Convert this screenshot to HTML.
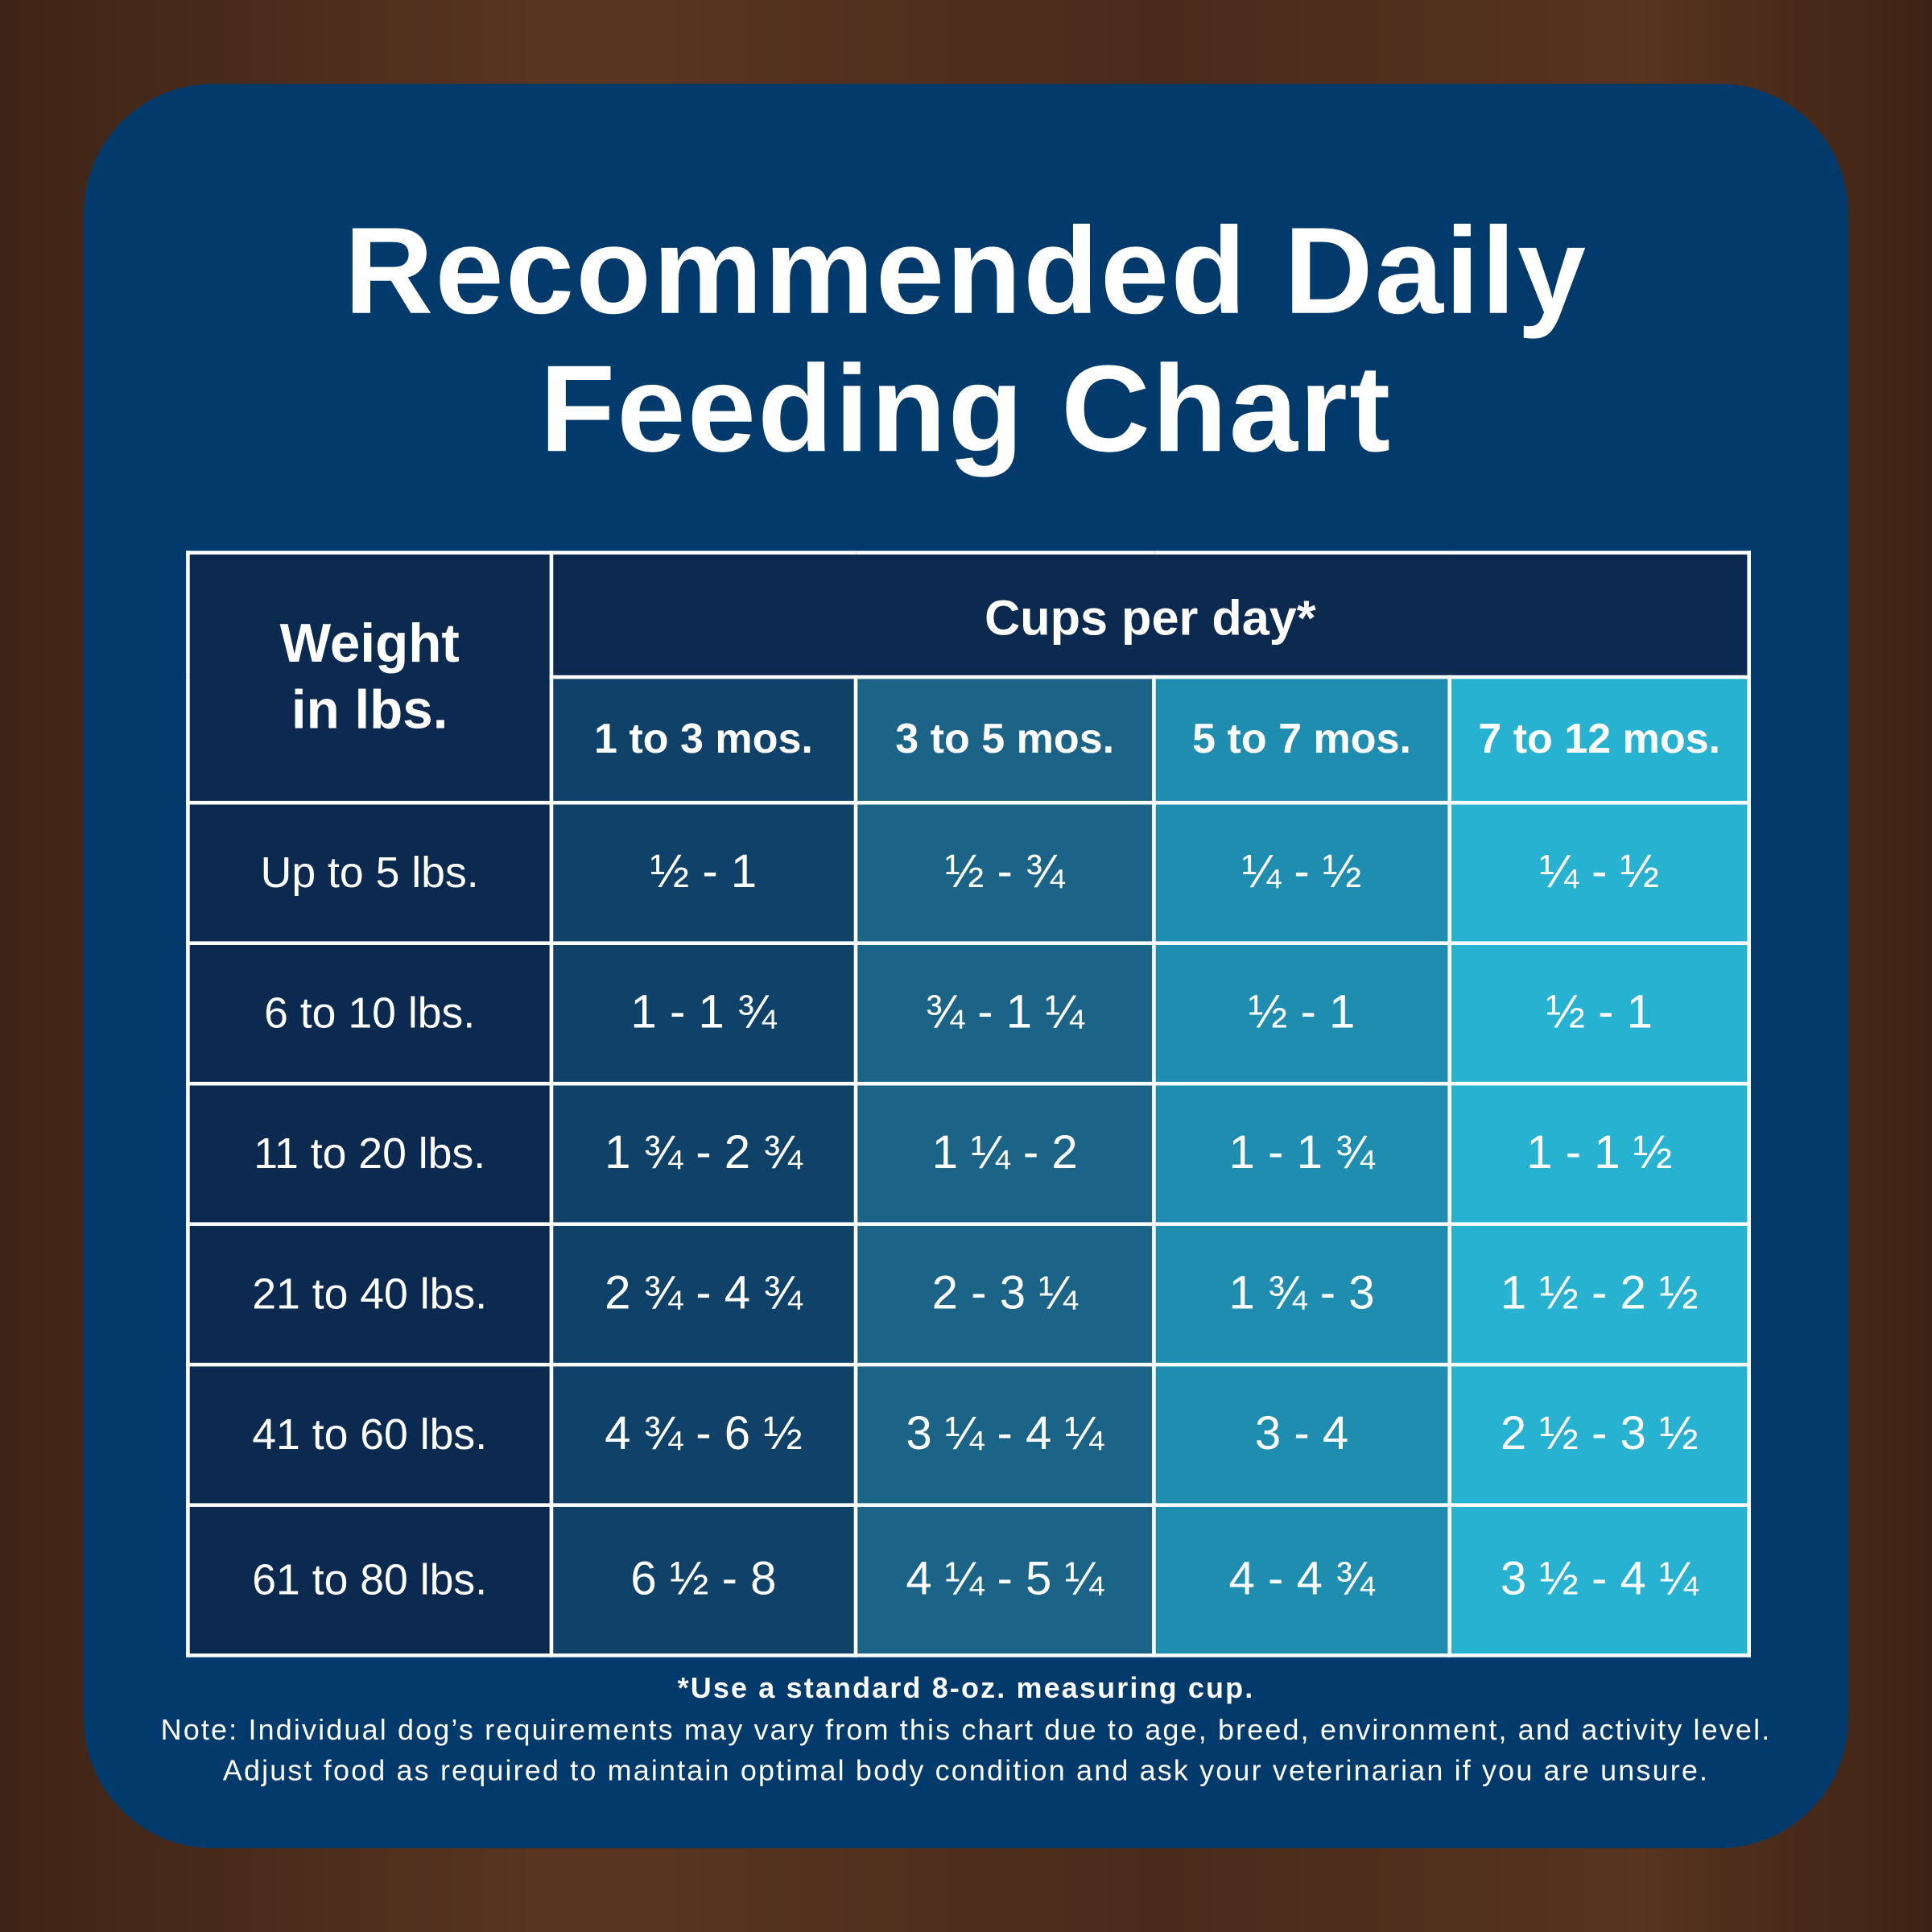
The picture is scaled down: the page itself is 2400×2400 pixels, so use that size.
<!DOCTYPE html>
<html><head><meta charset="utf-8"><style>
html,body{margin:0;padding:0;}
body{width:2400px;height:2400px;overflow:hidden;background:#4b2c1c;}
.bg{position:absolute;left:0;top:0;width:2400px;height:2400px;background:linear-gradient(90deg,#3e2416,#5a3522 30%,#4a2b1b 60%,#573320 85%,#3d2315);}
.wrap{position:absolute;left:0;top:0;width:1568px;height:1568px;transform:scale(1.530612);transform-origin:0 0;font-family:"Liberation Sans",sans-serif;color:#fff;}
.card{position:absolute;left:68px;top:68px;width:1432px;height:1432px;border-radius:105px;background:#023a6c;}
.title{position:absolute;left:0;width:1568px;text-align:center;font-weight:bold;font-size:100px;letter-spacing:1.5px;line-height:1;}
table{position:absolute;left:151px;top:447px;border-collapse:collapse;}
td{border:3px solid #fff;padding:0;text-align:center;vertical-align:middle;}
.c0{background:#0c2a50;}.c1{background:#0f4169;}.c2{background:#1b6488;}.c3{background:#1f8db0;}.c4{background:#27b2d1;}
.h{font-weight:bold;font-size:34px;}
.v{font-size:38px;}
.w{font-size:35px;}
.foot{position:absolute;left:0;width:1568px;text-align:center;font-size:23.5px;letter-spacing:1.4px;}
</style></head><body><div class="bg"></div>
<div class="wrap">
<div class="card"></div>
<div class="title" style="top:170px">Recommended Daily</div>
<div class="title" style="top:282px">Feeding Chart</div>
<table>
<tr style="height:101px"><td class="c0 h" rowspan="2" style="width:292px;font-size:44px;line-height:54px">Weight<br>in lbs.</td><td class="c0 h" colspan="4" style="font-size:40px;vertical-align:top;padding-top:30px">Cups per day*</td></tr>
<tr style="height:102px"><td class="c1 h" style="width:244px">1 to 3 mos.</td><td class="c2 h" style="width:239px">3 to 5 mos.</td><td class="c3 h" style="width:237px">5 to 7 mos.</td><td class="c4 h" style="width:240px">7 to 12 mos.</td></tr>
<tr style="height:114px"><td class="c0 w">Up to 5 lbs.</td><td class="c1 v">½ - 1</td><td class="c2 v">½ - ¾</td><td class="c3 v">¼ - ½</td><td class="c4 v">¼ - ½</td></tr>
<tr style="height:114px"><td class="c0 w">6 to 10 lbs.</td><td class="c1 v">1 - 1 ¾</td><td class="c2 v">¾ - 1 ¼</td><td class="c3 v">½ - 1</td><td class="c4 v">½ - 1</td></tr>
<tr style="height:114px"><td class="c0 w">11 to 20 lbs.</td><td class="c1 v">1 ¾ - 2 ¾</td><td class="c2 v">1 ¼ - 2</td><td class="c3 v">1 - 1 ¾</td><td class="c4 v">1 - 1 ½</td></tr>
<tr style="height:114px"><td class="c0 w">21 to 40 lbs.</td><td class="c1 v">2 ¾ - 4 ¾</td><td class="c2 v">2 - 3 ¼</td><td class="c3 v">1 ¾ - 3</td><td class="c4 v">1 ½ - 2 ½</td></tr>
<tr style="height:114px"><td class="c0 w">41 to 60 lbs.</td><td class="c1 v">4 ¾ - 6 ½</td><td class="c2 v">3 ¼ - 4 ¼</td><td class="c3 v">3 - 4</td><td class="c4 v">2 ½ - 3 ½</td></tr>
<tr style="height:122px"><td class="c0 w">61 to 80 lbs.</td><td class="c1 v">6 ½ - 8</td><td class="c2 v">4 ¼ - 5 ¼</td><td class="c3 v">4 - 4 ¾</td><td class="c4 v">3 ½ - 4 ¼</td></tr>
</table>
<div class="foot" style="top:1357px;font-weight:bold">*Use a standard 8-oz. measuring cup.</div>
<div class="foot" style="top:1391px">Note: Individual dog’s requirements may vary from this chart due to age, breed, environment, and activity level.</div>
<div class="foot" style="top:1424px">Adjust food as required to maintain optimal body condition and ask your veterinarian if you are unsure.</div>
</div>
</body></html>
